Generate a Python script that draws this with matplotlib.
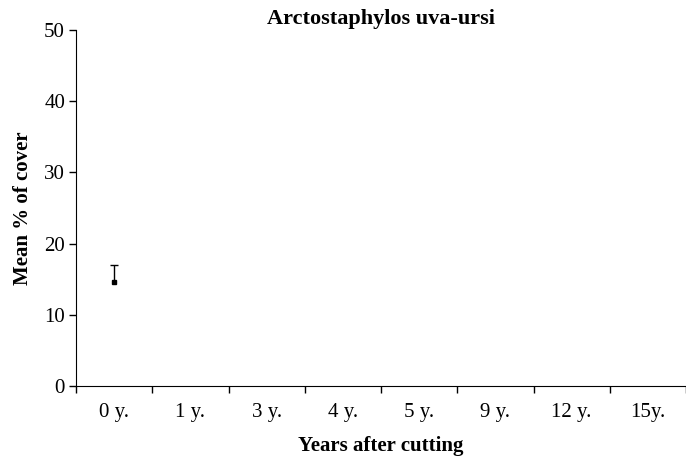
import numpy as np
import matplotlib.pyplot as plt

plt.rcParams['font.family'] = ['Liberation Serif', 'DejaVu Serif']

# categories and data
years = ['0 y.', '1 y.', '3 y.', '4 y.', '5 y.', '9 y.', '12 y.', '15y.']
mean_cover = [14.6]          # only the first period has a value
upper_err = [2.4]

fig = plt.figure(figsize=(6.86, 4.59), dpi=100)
ax = fig.add_axes([0.111, 0.159, 0.889, 0.776])

xpos = np.arange(len(mean_cover))
_, caps, _ = ax.errorbar(xpos, mean_cover,
                         yerr=[np.zeros(len(upper_err)), upper_err],
                         fmt='s', color='black', markersize=3, capsize=3,
                         elinewidth=1, capthick=1)
caps[0].set_visible(False)   # one-sided bar, no lower cap

ax.set_xlim(-0.5, len(years) - 0.5)
ax.set_ylim(0, 50)
ax.set_yticks(np.arange(0, 51, 10))
ax.set_xticks(np.arange(len(years)))
ax.set_xticklabels(years)
ax.set_xticks(np.arange(len(years) + 1) - 0.5, minor=True)
ax.tick_params(axis='x', which='major', length=0, pad=12, labelsize=15)
ax.tick_params(axis='x', which='minor', length=5, width=1)
ax.tick_params(axis='y', length=5, width=1, labelsize=15, pad=3)

for s in ['top', 'right']:
    ax.spines[s].set_visible(False)

ax.set_title('Arctostaphylos uva-ursi', fontsize=16, fontweight='bold', pad=4)
ax.set_xlabel('Years after cutting', fontsize=15, fontweight='bold', labelpad=10)
ax.set_ylabel('Mean % of cover', fontsize=15, fontweight='bold', labelpad=8)

fig.savefig('out.png', dpi=100)
